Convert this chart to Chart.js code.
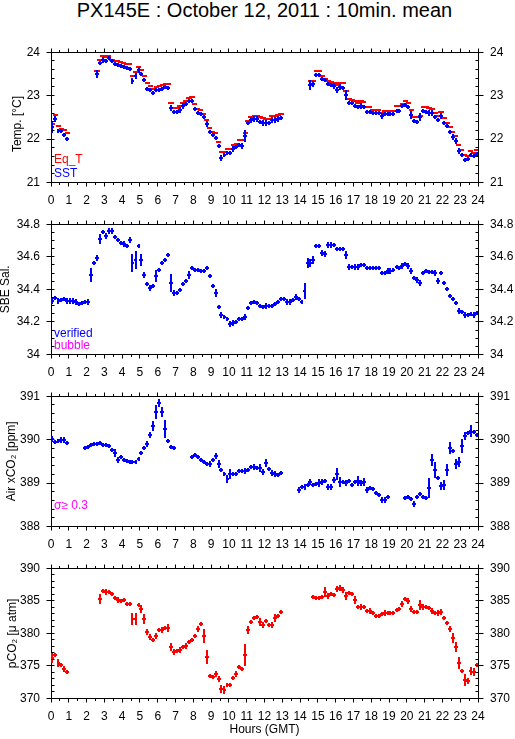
<!DOCTYPE html>
<html>
<head>
<meta charset="utf-8">
<script src="https://cdn.jsdelivr.net/npm/chart.js@4.4.1/dist/chart.umd.min.js"></script>
<style>
  body { margin: 0; background: #fff; width: 515px; height: 739px; position: relative; overflow: hidden;
         font-family: 'Liberation Sans', Arial, Helvetica, sans-serif; }
  #title { position: absolute; left: 0; top: 0; width: 529px; text-align: center; font-size: 20px; line-height: 20px; color: #000; }
  canvas { position: absolute; left: 0; }
</style>
</head>
<body>
<div id="title">PX145E : October 12, 2011 : 10min. mean</div>
<canvas id="tempChart" width="515" height="176" style="top:33px"></canvas>
<canvas id="salChart" width="515" height="176" style="top:205px"></canvas>
<canvas id="xco2Chart" width="515" height="176" style="top:377px"></canvas>
<canvas id="pco2Chart" width="515" height="190" style="top:549px"></canvas>
<script>
// 10-minute mean times (hours GMT)
const hours = [
  0.08, 0.25, 0.42, 0.58, 0.75, 0.92,   1.08, 1.25, 1.42, 1.58, 1.75, 1.92,
  2.08, 2.25, 2.42, 2.58, 2.75, 2.92,   3.08, 3.25, 3.42, 3.58, 3.75, 3.92,
  4.08, 4.25, 4.42, 4.58, 4.75, 4.92,   5.08, 5.25, 5.42, 5.58, 5.75, 5.92,
  6.08, 6.25, 6.42, 6.58, 6.75, 6.92,   7.08, 7.25, 7.42, 7.58, 7.75, 7.92,
  8.08, 8.25, 8.42, 8.58, 8.75, 8.92,   9.08, 9.25, 9.42, 9.58, 9.75, 9.92,
  10.08, 10.25, 10.42, 10.58, 10.75, 10.92,   11.08, 11.25, 11.42, 11.58, 11.75, 11.92,
  12.08, 12.25, 12.42, 12.58, 12.75, 12.92,   13.08, 13.25, 13.42, 13.58, 13.75, 13.92,
  14.08, 14.25, 14.42, 14.58, 14.75, 14.92,   15.08, 15.25, 15.42, 15.58, 15.75, 15.92,
  16.08, 16.25, 16.42, 16.58, 16.75, 16.92,   17.08, 17.25, 17.42, 17.58, 17.75, 17.92,
  18.08, 18.25, 18.42, 18.58, 18.75, 18.92,   19.08, 19.25, 19.42, 19.58, 19.75, 19.92,
  20.08, 20.25, 20.42, 20.58, 20.75, 20.92,   21.08, 21.25, 21.42, 21.58, 21.75, 21.92,
  22.08, 22.25, 22.42, 22.58, 22.75, 22.92,   23.08, 23.25, 23.42, 23.58, 23.75, 23.92
];
const hourTicks = [0, 1, 2, 3, 4, 5, 6, 7, 8, 9, 10, 11, 12, 13, 14, 15, 16, 17, 18, 19, 20, 21, 22, 23, 24];

// Temperature [°C]
const sst = [
  22.27, 22.47, 22.18, 22.18, 22.10, 22.00,
  null, null, null, null, null, null, null, null, null,
  23.50, 23.75, 23.83, 23.80, 23.86, 23.80, 23.72, 23.70, 23.68, 23.65, 23.63, 23.62, 23.33, 23.46, 23.60,
  23.50, 23.35, 23.16, 23.12, 23.06, 23.12, 23.12, 23.16, 23.19, 23.17, 22.71, 22.63, 22.63, 22.68, 22.77,
  22.80, 22.88, 22.88, 22.69, 22.59, 22.58, 22.50, 22.34, 22.16, 22.10, 22.03, 21.83, 21.56, 21.63, 21.67,
  21.67, 21.78, 21.81, 21.86, 21.85, 22.07, 22.36, 22.45, 22.47, 22.47, 22.40, 22.38, 22.38, 22.37, 22.45,
  22.45, 22.47, 22.49,
  null, null, null, null, null, null, null, null, null,
  23.25, 23.27, 23.48, 23.48, 23.38, 23.35, 23.27, 23.25, 23.23, 23.14, 23.21, 23.18, 23.01, 22.83, 22.82,
  22.76, 22.74, 22.77, 22.74, 22.63, 22.63, 22.60, 22.60, 22.60, 22.54, 22.58, 22.58, 22.58, 22.58, 22.65,
  22.65, 22.76, 22.79, 22.74, 22.56, 22.42, 22.40, 22.50, 22.65, 22.63, 22.61, 22.61, 22.50, 22.43, 22.54,
  22.37, 22.29, 22.16, 22.05, 21.96, 21.73, 21.63, 21.51, 21.53, 21.63, 21.60, 21.65
];
const eqT = [
  22.34, 22.55, 22.29, 22.24, 22.22, 22.13,
  null, null, null, null, null, null, null, null, null,
  23.56, 23.81, 23.91, 23.90, 23.91, 23.81, 23.80, 23.79, 23.77, 23.76, 23.72, 23.72, 23.45, 23.54, 23.65,
  23.60, 23.45, 23.29, 23.23, 23.16, 23.20, 23.22, 23.25, 23.27, 23.27, 22.83, 22.72, 22.72, 22.77, 22.83,
  22.88, 22.94, 22.98, 22.80, 22.69, 22.67, 22.58, 22.45, 22.25, 22.16, 22.14, 21.94, 21.70, 21.70, 21.76,
  21.76, 21.86, 21.89, 21.99, 21.99, 22.14, 22.42, 22.50, 22.54, 22.54, 22.50, 22.48, 22.47, 22.47, 22.53,
  22.53, 22.55, 22.57,
  null, null, null, null, null, null, null, null, null,
  23.34, 23.34, 23.56, 23.57, 23.45, 23.39, 23.34, 23.32, 23.30, 23.24, 23.28, 23.28, 23.10, 22.92, 22.90,
  22.87, 22.83, 22.87, 22.86, 22.74, 22.74, 22.68, 22.68, 22.68, 22.61, 22.65, 22.65, 22.65, 22.65, 22.75,
  22.75, 22.81, 22.87, 22.83, 22.66, 22.50, 22.50, 22.54, 22.74, 22.74, 22.72, 22.70, 22.61, 22.54, 22.63,
  22.48, 22.38, 22.27, 22.16, 22.07, 21.86, 21.74, 21.63, 21.62, 21.72, 21.67, 21.74
];
const sstErr = [[0.08, 0.14], [0.25, 0.07], [2.58, 0.09], [4.58, 0.08], [4.75, 0.07], [6.75, 0.07],
  [8.75, 0.08], [9.58, 0.07], [10.92, 0.13], [11.08, 0.06], [14.58, 0.1], [14.75, 0.07], [16.58, 0.11],
  [20.25, 0.09], [20.75, 0.1], [21.58, 0.06], [21.92, 0.06], [22.42, 0.06], [22.58, 0.06], [22.75, 0.06],
  [22.92, 0.06], [23.25, 0.06]];

// SBE salinity
const salinity = [
  34.33, 34.345, 34.33, 34.335, 34.34, 34.33, 34.33, 34.33, 34.325, 34.31, 34.315, 34.32, 34.325, 34.49, 34.56,
  34.59, 34.71, 34.75, 34.73, 34.76, 34.76, 34.72, 34.70, 34.685, 34.68, 34.665, 34.70, 34.56, 34.58, 34.665,
  34.58, 34.49, 34.43, 34.41, 34.42, 34.485, 34.52, 34.56, 34.58, 34.61, 34.44, 34.38, 34.375, 34.395, 34.43,
  34.45, 34.49, 34.53, 34.52, 34.52, 34.51, 34.51, 34.53, 34.48, 34.42, 34.38, 34.29, 34.245, 34.23, 34.215,
  34.19, 34.195, 34.20, 34.215, 34.215, 34.23, 34.285, 34.315, 34.32, 34.315, 34.295, 34.29, 34.30, 34.295, 34.295,
  34.31, 34.32, 34.34, 34.34, 34.325, 34.325, 34.335, 34.355, 34.34, 34.32, 34.39, 34.56, 34.56, 34.58, 34.665,
  34.665, 34.625, 34.615, 34.675, 34.675, 34.67, 34.645, 34.645, 34.645, 34.61, 34.54, 34.535, 34.54, 34.54, 34.55,
  34.55, 34.53, 34.53, 34.53, 34.53, 34.53, 34.50, 34.50, 34.515, 34.515, 34.52, 34.535, 34.53, 34.545, 34.555,
  34.545, 34.515, 34.47, 34.46, 34.44, 34.50, 34.51, 34.505, 34.505, 34.50, 34.45, 34.50, 34.44, 34.40, 34.36,
  34.34, 34.315, 34.27, 34.26, 34.245, 34.24, 34.25, 34.245, 34.255
];
const salErr = [[2.25, 0.04], [2.58, 0.02], [2.75, 0.027], [3.25, 0.018], [3.42, 0.018], [4.42, 0.02],
  [4.58, 0.056], [4.75, 0.058], [5.08, 0.04], [5.92, 0.034], [6.75, 0.053], [7.75, 0.02], [9.25, 0.02],
  [10.92, 0.02], [14.25, 0.05], [14.42, 0.032], [14.58, 0.025], [14.75, 0.026], [15.42, 0.02], [16.58, 0.027],
  [20.75, 0.02], [21.58, 0.02], [21.75, 0.02]];

// Air xCO2 [ppm]
const airXco2 = [
  390.02, 389.95, 389.96, 390.00, 390.00, 389.93,
  null, null, null, null, null,
  389.80, 389.83, 389.87, 389.89, 389.90, 389.92, 389.88, 389.87, 389.85, 389.76, 389.70, 389.54, 389.60, 389.53, 389.50,
  389.49, 389.49, 389.49, 389.56, 389.69, 389.80, 389.91, 390.10, 390.32, 390.64, 390.85, 390.64, 390.25, 389.96, 389.83,
  389.81,
  null, null, null, null, null,
  389.60, 389.64, 389.60, 389.52, 389.48, 389.43, 389.45, 389.52, 389.62, 389.43, 389.29, 389.20, 389.10, 389.20, 389.20,
  389.20, 389.27, 389.27, 389.27, 389.30, 389.36, 389.38, 389.34, 389.35, 389.25, 389.46, 389.32, 389.24, 389.22, 389.18,
  389.23,
  null, null, null, null, null,
  388.83, 388.91, 388.92, 388.96, 389.03, 388.96, 388.98, 389.00, 389.02, 389.05, 388.92, 388.92, 389.08, 389.22, 389.03,
  389.03, 389.01, 389.05, 388.95, 389.03, 389.05, 389.01, 389.02, 388.85, 388.89, 388.87, 388.76, 388.72, 388.62, 388.62,
  388.67,
  null, null, null, null, null,
  388.65, 388.68, 388.63, 388.52, 388.68, 388.74, 388.67, 388.66, 388.89, 389.54, 389.30, 389.12, 388.93, 388.96, 389.30,
  389.80, 389.74, 389.43, 389.49, 389.85, 390.09, 390.15, 390.20, 390.18, 390.11
];
const xco2Err = [[0.08, 0.06], [3.58, 0.08], [5.58, 0.065], [5.75, 0.1], [5.92, 0.15], [6.08, 0.08],
  [6.25, 0.12], [6.42, 0.2], [9.25, 0.07], [9.42, 0.09], [9.92, 0.08], [10.08, 0.12], [10.92, 0.07],
  [11.75, 0.08], [11.92, 0.08], [12.08, 0.1], [13.92, 0.07], [14.58, 0.07], [15.08, 0.1], [15.25, 0.08],
  [16.08, 0.12], [16.25, 0.12], [17.25, 0.11], [17.58, 0.09], [20.42, 0.07], [21.25, 0.23], [21.42, 0.13],
  [21.58, 0.18], [21.92, 0.1], [22.08, 0.12], [22.25, 0.13], [22.42, 0.14], [22.75, 0.12], [22.92, 0.1],
  [23.08, 0.16], [23.25, 0.08], [23.58, 0.13]];

// pCO2 [uatm]
const pco2 = [
  376.2, 376.7, 375.4, 375.1, 374.6, 374.1,
  null, null, null, null, null, null, null, null, null, null,
  385.25, 386.47, 386.3, 386.37, 386.0, 385.4, 385.16, 384.9, 385.1, 384.5, 384.5, 382.2, 382.2, 384.3, 383.8,
  382.2, 380.2, 379.5, 379.0, 379.6, 380.5, 380.55, 380.75, 380.8, 377.85, 377.2, 377.3, 377.5, 377.9, 378.1,
  378.7, 379.0, 379.6, 380.65, 381.4, 379.6, 376.3, 373.4, 373.3, 373.8, 373.0, 371.45, 371.35, 372.0, 372.0,
  373.15, 373.8, 374.85, 374.5, 376.7, 380.55, 381.7, 382.35, 382.5, 381.8, 381.35, 381.85, 381.3, 381.35, 382.4,
  382.65, 383.3,
  null, null, null, null, null, null, null, null, null, null,
  385.55, 385.45, 385.45, 385.55, 386.3, 385.8, 386.0, 385.9, 386.75, 387.0, 386.7, 385.8, 386.2, 386.0, 385.1,
  384.0, 384.1, 384.0, 383.4, 383.5, 383.05, 382.65, 382.65, 382.9, 383.2, 383.05, 383.05, 383.05, 383.6, 383.7,
  384.5, 385.3, 385.0, 383.75, 383.3, 383.3, 384.35, 384.1, 384.0, 383.85, 383.5, 383.05, 383.15, 383.3, 382.3,
  381.6, 380.6, 379.3, 377.9, 375.4, 374.2, 372.9, 372.75, 374.2, 374.05, 375.15
];
const pco2Err = [[0.08, 0.8], [0.42, 0.6], [2.75, 0.8], [3.08, 0.5], [4.58, 0.95], [4.75, 0.9], [5.08, 0.5],
  [5.25, 0.75], [5.42, 0.5], [5.92, 0.5], [6.58, 0.65], [6.75, 0.65], [8.25, 0.5], [8.58, 1.05], [8.75, 1.2],
  [9.42, 0.5], [9.58, 0.55], [9.75, 0.5], [10.92, 1.6], [11.08, 0.6], [11.75, 0.5], [12.58, 0.5], [15.42, 0.85],
  [16.08, 0.5], [16.58, 0.6], [17.08, 0.6], [19.75, 0.5], [20.08, 0.5], [20.25, 0.5], [20.75, 0.8], [21.75, 0.5],
  [21.92, 0.5], [22.42, 0.5], [22.58, 0.75], [22.75, 0.75], [22.92, 0.9], [23.25, 0.85], [23.58, 0.6], [23.75, 0.6]];

// y tick labels
const tempTicks = [21, 22, 23, 24];
const salTicks = [34, 34.2, 34.4, 34.6, 34.8];
const xco2Ticks = [388, 389, 390, 391];
const pco2Ticks = [370, 375, 380, 385, 390];

Chart.defaults.font.family = "'Liberation Sans', Arial, Helvetica, sans-serif";
Chart.defaults.font.size = 12;
Chart.defaults.color = '#000';

// build {x, y, e} points, e = half height of the error bar
function toPoints(values, errList, defErr) {
    const big = {};
    (errList || []).forEach(([h, e]) => { big[h.toFixed(2)] = e; });
    return hours.map((h, i) => ({x: h, y: values[i], e: big[h.toFixed(2)] ?? defErr}));
}

// same rounding as chart.js uses for 1px axis borders
const crisp = v => Math.round(v - 0.5) + 0.5;

// draws each 10 min mean as a "+" (horizontal span and vertical error bar)
const crossMarks = {
    id: 'crossMarks',
    afterDatasetsDraw(chart) {
        const {ctx, chartArea, scales: {x, y}} = chart;
        ctx.save();
        ctx.beginPath();
        ctx.rect(chartArea.left, chartArea.top, chartArea.width, chartArea.height);
        ctx.clip();
        chart.data.datasets.forEach(ds => {
            ctx.strokeStyle = ds.borderColor;
            ctx.lineWidth = 2;
            ctx.beginPath();
            ds.data.forEach(p => {
                if (p.y === null || p.y === undefined) return;
                const px = Math.round(x.getPixelForValue(p.x));
                const py = Math.round(y.getPixelForValue(p.y));
                const x0 = Math.round(x.getPixelForValue(p.x - ds.halfWidth));
                const x1 = Math.round(x.getPixelForValue(p.x + ds.halfWidth));
                ctx.moveTo(x0, py);
                ctx.lineTo(x1, py);
                if (p.e > 0) {
                    const half = Math.max(2, Math.round(Math.abs(y.getPixelForValue(p.y + p.e) - py)));
                    ctx.moveTo(px, py - half);
                    ctx.lineTo(px, py + half);
                }
            });
            ctx.stroke();
        });
        ctx.restore();
    }
};

// minor and major tick marks around the frame, plus in-plot legend text
const frameTicks = {
    id: 'frameTicks',
    afterDraw(chart, args, opts) {
        const {ctx, chartArea: {left, right, top, bottom}, scales: {x, y}} = chart;
        ctx.save();
        ctx.strokeStyle = '#000';
        ctx.lineWidth = 1;
        ctx.beginPath();
        const t = crisp(top), b = crisp(bottom);
        for (let i = 0; i <= 48; i++) {
            const px = crisp(x.getPixelForValue(i / 2));
            const len = i % 2 === 0 ? 4 : 2.5;
            ctx.moveTo(px, b); ctx.lineTo(px, b + len);
            ctx.moveTo(px, t); ctx.lineTo(px, t - len);
        }
        const n = Math.round((y.max - y.min) / opts.minor);
        const per = Math.round(opts.major / opts.minor);
        const l = crisp(left), r = crisp(right);
        for (let i = 0; i <= n; i++) {
            const py = crisp(y.getPixelForValue(y.min + i * opts.minor));
            const major = i % per === 0;
            ctx.moveTo(l - (major ? 5 : 0), py); ctx.lineTo(l + 3, py);
            ctx.moveTo(r + (major ? 5 : 0), py); ctx.lineTo(r - 3, py);
        }
        ctx.stroke();
        ctx.font = "12px 'Liberation Sans', Arial, sans-serif";
        ctx.textBaseline = 'alphabetic';
        ctx.textAlign = 'left';
        (opts.notes || []).forEach(note => {
            ctx.fillStyle = note.color;
            ctx.fillText(note.text, left + 3, bottom - note.up);
        });
        ctx.restore();
    }
};

function makePanel(id, opt) {
    const canvas = document.getElementById(id);
    const plotH = 137.5;
    const yScale = (pos) => ({
        type: 'linear',
        position: pos,
        min: opt.ticks[0],
        max: opt.ticks[opt.ticks.length - 1],
        afterBuildTicks: s => { s.ticks = opt.ticks.map(v => ({value: v})); },
        afterFit: s => { s.width = pos === 'left' ? 51 : 37; },
        grid: {display: false, drawTicks: false},
        border: {display: true, color: '#000', width: 1},
        ticks: {padding: pos === 'left' ? 11 : 12, callback: v => String(Number(v.toFixed(2)))},
        title: pos === 'left'
            ? {display: true, text: opt.yTitle, padding: {top: opt.titlePad, bottom: 0}, font: {size: 12}}
            : {display: false}
    });
    return new Chart(canvas, {
        type: 'scatter',
        data: {datasets: opt.datasets},
        options: {
            responsive: false,
            animation: false,
            events: [],
            layout: {padding: 0},
            elements: {point: {radius: 0}},
            plugins: {
                legend: {display: false},
                tooltip: {enabled: false},
                frameTicks: {minor: opt.minor, major: opt.major, notes: opt.notes}
            },
            scales: {
                x: {
                    type: 'linear', position: 'bottom', min: 0, max: 24,
                    afterBuildTicks: s => { s.ticks = hourTicks.map(v => ({value: v})); },
                    afterFit: s => { s.height = canvas.height - 12 - plotH; },
                    grid: {display: false, drawTicks: false},
                    border: {display: true, color: '#000', width: 1},
                    ticks: {padding: 11, autoSkip: false, maxRotation: 0, callback: v => String(v)},
                    title: opt.xTitle
                        ? {display: true, text: opt.xTitle, padding: {top: 0, bottom: 2}, font: {size: 12}}
                        : {display: false}
                },
                xTop: {
                    type: 'linear', position: 'top', min: 0, max: 24,
                    afterFit: s => { s.height = 12; },
                    grid: {display: false, drawTicks: false},
                    border: {display: true, color: '#000', width: 1},
                    ticks: {display: false}
                },
                y: yScale('left'),
                y2: yScale('right')
            }
        },
        plugins: [crossMarks, frameTicks]
    });
}

makePanel('tempChart', {
    ticks: tempTicks, minor: 0.2, major: 1, yTitle: 'Temp. [°C]    ', titlePad: 10,
    datasets: [
        {label: 'Eq_T', data: toPoints(eqT, null, 0), borderColor: '#ff0000', halfWidth: 0.15, showLine: false},
        {label: 'SST', data: toPoints(sst, sstErr, 0.05), borderColor: '#0000ff', halfWidth: 0.11, showLine: false}
    ],
    notes: [{text: 'Eq_T', color: '#ff0000', up: 19.5}, {text: 'SST', color: '#0000ff', up: 5.5}]
});

makePanel('salChart', {
    ticks: salTicks, minor: 0.05, major: 0.2, yTitle: 'SBE Sal.', titlePad: -2,
    datasets: [
        {label: 'verified', data: toPoints(salinity, salErr, 0.014), borderColor: '#0000ff', halfWidth: 0.11, showLine: false}
    ],
    notes: [{text: 'verified', color: '#0000ff', up: 18}, {text: 'bubble', color: '#ff00ff', up: 5.5}]
});

makePanel('xco2Chart', {
    ticks: xco2Ticks, minor: 0.2, major: 1, yTitle: 'Air xCO₂ [ppm]', titlePad: 4,
    datasets: [
        {label: 'Air xCO2', data: toPoints(airXco2, xco2Err, 0.05), borderColor: '#0000ff', halfWidth: 0.11, showLine: false}
    ],
    notes: [{text: 'σ≥ 0.3', color: '#ff00ff', up: 18}]
});

makePanel('pco2Chart', {
    ticks: pco2Ticks, minor: 1, major: 5, yTitle: 'pCO₂ [μ atm]', titlePad: 5, xTitle: 'Hours (GMT)',
    datasets: [
        {label: 'pCO2', data: toPoints(pco2, pco2Err, 0.35), borderColor: '#ff0000', halfWidth: 0.11, showLine: false}
    ]
});
</script>
</body>
</html>
